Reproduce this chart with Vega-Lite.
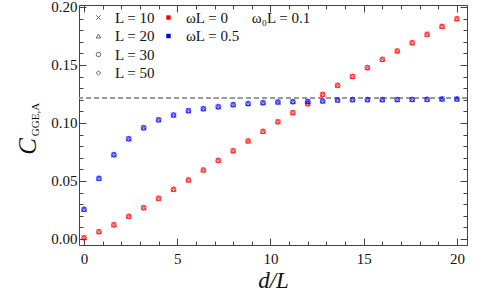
{
"$schema": "https://vega.github.io/schema/vega-lite/v6.json",
"autosize": "none",
"padding": {"left": 79, "top": 5, "right": 18, "bottom": 49},
"width": 388,
"height": 240,
"background": "white",
"config": {
  "font": "'Liberation Serif', 'Times New Roman', serif",
  "view": {"stroke": "#444", "strokeWidth": 1},
  "axis": {"labelFont": "'Liberation Serif', 'Times New Roman', serif", "labelFontSize": 15, "labelColor": "#111", "tickColor": "#444", "domain": false, "grid": false, "titleFont": "'Liberation Serif', 'Times New Roman', serif", "titleColor": "#111", "titleFontWeight": "normal"},
  "legend": {"labelFont": "'Liberation Serif', 'Times New Roman', serif", "labelFontSize": 15, "labelColor": "#111", "padding": 0}
},
"data": {"values": [
{"d":0,"C":0.0011,"L":"L = 10","w":"ωL = 0"},{"d":0.8,"C":0.0063,"L":"L = 10","w":"ωL = 0"},{"d":1.6,"C":0.0123,"L":"L = 10","w":"ωL = 0"},{"d":2.4,"C":0.0196,"L":"L = 10","w":"ωL = 0"},{"d":3.2,"C":0.027,"L":"L = 10","w":"ωL = 0"},{"d":4,"C":0.0351,"L":"L = 10","w":"ωL = 0"},{"d":4.8,"C":0.0428,"L":"L = 10","w":"ωL = 0"},{"d":5.6,"C":0.0509,"L":"L = 10","w":"ωL = 0"},{"d":6.4,"C":0.0595,"L":"L = 10","w":"ωL = 0"},{"d":7.2,"C":0.0678,"L":"L = 10","w":"ωL = 0"},{"d":8,"C":0.0761,"L":"L = 10","w":"ωL = 0"},{"d":8.8,"C":0.0845,"L":"L = 10","w":"ωL = 0"},{"d":9.6,"C":0.0928,"L":"L = 10","w":"ωL = 0"},{"d":10.4,"C":0.1011,"L":"L = 10","w":"ωL = 0"},{"d":11.2,"C":0.1089,"L":"L = 10","w":"ωL = 0"},{"d":12,"C":0.1166,"L":"L = 10","w":"ωL = 0"},{"d":12.8,"C":0.1247,"L":"L = 10","w":"ωL = 0"},{"d":13.6,"C":0.1325,"L":"L = 10","w":"ωL = 0"},{"d":14.4,"C":0.1402,"L":"L = 10","w":"ωL = 0"},{"d":15.2,"C":0.1477,"L":"L = 10","w":"ωL = 0"},{"d":16,"C":0.1549,"L":"L = 10","w":"ωL = 0"},{"d":16.8,"C":0.1621,"L":"L = 10","w":"ωL = 0"},{"d":17.6,"C":0.1692,"L":"L = 10","w":"ωL = 0"},{"d":18.4,"C":0.1765,"L":"L = 10","w":"ωL = 0"},{"d":19.2,"C":0.1833,"L":"L = 10","w":"ωL = 0"},{"d":20,"C":0.1899,"L":"L = 10","w":"ωL = 0"},
{"d":0,"C":0.0011,"L":"L = 20","w":"ωL = 0"},{"d":0.8,"C":0.0063,"L":"L = 20","w":"ωL = 0"},{"d":1.6,"C":0.0123,"L":"L = 20","w":"ωL = 0"},{"d":2.4,"C":0.0196,"L":"L = 20","w":"ωL = 0"},{"d":3.2,"C":0.027,"L":"L = 20","w":"ωL = 0"},{"d":4,"C":0.0351,"L":"L = 20","w":"ωL = 0"},{"d":4.8,"C":0.0428,"L":"L = 20","w":"ωL = 0"},{"d":5.6,"C":0.0509,"L":"L = 20","w":"ωL = 0"},{"d":6.4,"C":0.0595,"L":"L = 20","w":"ωL = 0"},{"d":7.2,"C":0.0678,"L":"L = 20","w":"ωL = 0"},{"d":8,"C":0.0761,"L":"L = 20","w":"ωL = 0"},{"d":8.8,"C":0.0845,"L":"L = 20","w":"ωL = 0"},{"d":9.6,"C":0.0928,"L":"L = 20","w":"ωL = 0"},{"d":10.4,"C":0.1011,"L":"L = 20","w":"ωL = 0"},{"d":11.2,"C":0.1089,"L":"L = 20","w":"ωL = 0"},{"d":12,"C":0.1166,"L":"L = 20","w":"ωL = 0"},{"d":12.8,"C":0.1247,"L":"L = 20","w":"ωL = 0"},{"d":13.6,"C":0.1325,"L":"L = 20","w":"ωL = 0"},{"d":14.4,"C":0.1402,"L":"L = 20","w":"ωL = 0"},{"d":15.2,"C":0.1477,"L":"L = 20","w":"ωL = 0"},{"d":16,"C":0.1549,"L":"L = 20","w":"ωL = 0"},{"d":16.8,"C":0.1621,"L":"L = 20","w":"ωL = 0"},{"d":17.6,"C":0.1692,"L":"L = 20","w":"ωL = 0"},{"d":18.4,"C":0.1765,"L":"L = 20","w":"ωL = 0"},{"d":19.2,"C":0.1833,"L":"L = 20","w":"ωL = 0"},{"d":20,"C":0.1899,"L":"L = 20","w":"ωL = 0"},
{"d":0,"C":0.0011,"L":"L = 30","w":"ωL = 0"},{"d":0.8,"C":0.0063,"L":"L = 30","w":"ωL = 0"},{"d":1.6,"C":0.0123,"L":"L = 30","w":"ωL = 0"},{"d":2.4,"C":0.0196,"L":"L = 30","w":"ωL = 0"},{"d":3.2,"C":0.027,"L":"L = 30","w":"ωL = 0"},{"d":4,"C":0.0351,"L":"L = 30","w":"ωL = 0"},{"d":4.8,"C":0.0428,"L":"L = 30","w":"ωL = 0"},{"d":5.6,"C":0.0509,"L":"L = 30","w":"ωL = 0"},{"d":6.4,"C":0.0595,"L":"L = 30","w":"ωL = 0"},{"d":7.2,"C":0.0678,"L":"L = 30","w":"ωL = 0"},{"d":8,"C":0.0761,"L":"L = 30","w":"ωL = 0"},{"d":8.8,"C":0.0845,"L":"L = 30","w":"ωL = 0"},{"d":9.6,"C":0.0928,"L":"L = 30","w":"ωL = 0"},{"d":10.4,"C":0.1011,"L":"L = 30","w":"ωL = 0"},{"d":11.2,"C":0.1089,"L":"L = 30","w":"ωL = 0"},{"d":12,"C":0.1166,"L":"L = 30","w":"ωL = 0"},{"d":12.8,"C":0.1247,"L":"L = 30","w":"ωL = 0"},{"d":13.6,"C":0.1325,"L":"L = 30","w":"ωL = 0"},{"d":14.4,"C":0.1402,"L":"L = 30","w":"ωL = 0"},{"d":15.2,"C":0.1477,"L":"L = 30","w":"ωL = 0"},{"d":16,"C":0.1549,"L":"L = 30","w":"ωL = 0"},{"d":16.8,"C":0.1621,"L":"L = 30","w":"ωL = 0"},{"d":17.6,"C":0.1692,"L":"L = 30","w":"ωL = 0"},{"d":18.4,"C":0.1765,"L":"L = 30","w":"ωL = 0"},{"d":19.2,"C":0.1833,"L":"L = 30","w":"ωL = 0"},{"d":20,"C":0.1899,"L":"L = 30","w":"ωL = 0"},
{"d":0,"C":0.0011,"L":"L = 50","w":"ωL = 0"},{"d":0.8,"C":0.0063,"L":"L = 50","w":"ωL = 0"},{"d":1.6,"C":0.0123,"L":"L = 50","w":"ωL = 0"},{"d":2.4,"C":0.0196,"L":"L = 50","w":"ωL = 0"},{"d":3.2,"C":0.027,"L":"L = 50","w":"ωL = 0"},{"d":4,"C":0.0351,"L":"L = 50","w":"ωL = 0"},{"d":4.8,"C":0.0428,"L":"L = 50","w":"ωL = 0"},{"d":5.6,"C":0.0509,"L":"L = 50","w":"ωL = 0"},{"d":6.4,"C":0.0595,"L":"L = 50","w":"ωL = 0"},{"d":7.2,"C":0.0678,"L":"L = 50","w":"ωL = 0"},{"d":8,"C":0.0761,"L":"L = 50","w":"ωL = 0"},{"d":8.8,"C":0.0845,"L":"L = 50","w":"ωL = 0"},{"d":9.6,"C":0.0928,"L":"L = 50","w":"ωL = 0"},{"d":10.4,"C":0.1011,"L":"L = 50","w":"ωL = 0"},{"d":11.2,"C":0.1089,"L":"L = 50","w":"ωL = 0"},{"d":12,"C":0.1166,"L":"L = 50","w":"ωL = 0"},{"d":12.8,"C":0.1247,"L":"L = 50","w":"ωL = 0"},{"d":13.6,"C":0.1325,"L":"L = 50","w":"ωL = 0"},{"d":14.4,"C":0.1402,"L":"L = 50","w":"ωL = 0"},{"d":15.2,"C":0.1477,"L":"L = 50","w":"ωL = 0"},{"d":16,"C":0.1549,"L":"L = 50","w":"ωL = 0"},{"d":16.8,"C":0.1621,"L":"L = 50","w":"ωL = 0"},{"d":17.6,"C":0.1692,"L":"L = 50","w":"ωL = 0"},{"d":18.4,"C":0.1765,"L":"L = 50","w":"ωL = 0"},{"d":19.2,"C":0.1833,"L":"L = 50","w":"ωL = 0"},{"d":20,"C":0.1899,"L":"L = 50","w":"ωL = 0"},
{"d":0,"C":0.0256,"L":"L = 10","w":"ωL = 0.5"},{"d":0.8,"C":0.0523,"L":"L = 10","w":"ωL = 0.5"},{"d":1.6,"C":0.0727,"L":"L = 10","w":"ωL = 0.5"},{"d":2.4,"C":0.0864,"L":"L = 10","w":"ωL = 0.5"},{"d":3.2,"C":0.0959,"L":"L = 10","w":"ωL = 0.5"},{"d":4,"C":0.1028,"L":"L = 10","w":"ωL = 0.5"},{"d":4.8,"C":0.1069,"L":"L = 10","w":"ωL = 0.5"},{"d":5.6,"C":0.1106,"L":"L = 10","w":"ωL = 0.5"},{"d":6.4,"C":0.1123,"L":"L = 10","w":"ωL = 0.5"},{"d":7.2,"C":0.114,"L":"L = 10","w":"ωL = 0.5"},{"d":8,"C":0.1158,"L":"L = 10","w":"ωL = 0.5"},{"d":8.8,"C":0.1167,"L":"L = 10","w":"ωL = 0.5"},{"d":9.6,"C":0.1175,"L":"L = 10","w":"ωL = 0.5"},{"d":10.4,"C":0.1181,"L":"L = 10","w":"ωL = 0.5"},{"d":11.2,"C":0.1184,"L":"L = 10","w":"ωL = 0.5"},{"d":12,"C":0.1186,"L":"L = 10","w":"ωL = 0.5"},{"d":12.8,"C":0.119,"L":"L = 10","w":"ωL = 0.5"},{"d":13.6,"C":0.1198,"L":"L = 10","w":"ωL = 0.5"},{"d":14.4,"C":0.1201,"L":"L = 10","w":"ωL = 0.5"},{"d":15.2,"C":0.1201,"L":"L = 10","w":"ωL = 0.5"},{"d":16,"C":0.1201,"L":"L = 10","w":"ωL = 0.5"},{"d":16.8,"C":0.1202,"L":"L = 10","w":"ωL = 0.5"},{"d":17.6,"C":0.1203,"L":"L = 10","w":"ωL = 0.5"},{"d":18.4,"C":0.1204,"L":"L = 10","w":"ωL = 0.5"},{"d":19.2,"C":0.1207,"L":"L = 10","w":"ωL = 0.5"},{"d":20,"C":0.1207,"L":"L = 10","w":"ωL = 0.5"},
{"d":0,"C":0.0256,"L":"L = 20","w":"ωL = 0.5"},{"d":0.8,"C":0.0523,"L":"L = 20","w":"ωL = 0.5"},{"d":1.6,"C":0.0727,"L":"L = 20","w":"ωL = 0.5"},{"d":2.4,"C":0.0864,"L":"L = 20","w":"ωL = 0.5"},{"d":3.2,"C":0.0959,"L":"L = 20","w":"ωL = 0.5"},{"d":4,"C":0.1028,"L":"L = 20","w":"ωL = 0.5"},{"d":4.8,"C":0.1069,"L":"L = 20","w":"ωL = 0.5"},{"d":5.6,"C":0.1106,"L":"L = 20","w":"ωL = 0.5"},{"d":6.4,"C":0.1123,"L":"L = 20","w":"ωL = 0.5"},{"d":7.2,"C":0.114,"L":"L = 20","w":"ωL = 0.5"},{"d":8,"C":0.1158,"L":"L = 20","w":"ωL = 0.5"},{"d":8.8,"C":0.1167,"L":"L = 20","w":"ωL = 0.5"},{"d":9.6,"C":0.1175,"L":"L = 20","w":"ωL = 0.5"},{"d":10.4,"C":0.1181,"L":"L = 20","w":"ωL = 0.5"},{"d":11.2,"C":0.1184,"L":"L = 20","w":"ωL = 0.5"},{"d":12,"C":0.1186,"L":"L = 20","w":"ωL = 0.5"},{"d":12.8,"C":0.119,"L":"L = 20","w":"ωL = 0.5"},{"d":13.6,"C":0.1198,"L":"L = 20","w":"ωL = 0.5"},{"d":14.4,"C":0.1201,"L":"L = 20","w":"ωL = 0.5"},{"d":15.2,"C":0.1201,"L":"L = 20","w":"ωL = 0.5"},{"d":16,"C":0.1201,"L":"L = 20","w":"ωL = 0.5"},{"d":16.8,"C":0.1202,"L":"L = 20","w":"ωL = 0.5"},{"d":17.6,"C":0.1203,"L":"L = 20","w":"ωL = 0.5"},{"d":18.4,"C":0.1204,"L":"L = 20","w":"ωL = 0.5"},{"d":19.2,"C":0.1207,"L":"L = 20","w":"ωL = 0.5"},{"d":20,"C":0.1207,"L":"L = 20","w":"ωL = 0.5"},
{"d":0,"C":0.0256,"L":"L = 30","w":"ωL = 0.5"},{"d":0.8,"C":0.0523,"L":"L = 30","w":"ωL = 0.5"},{"d":1.6,"C":0.0727,"L":"L = 30","w":"ωL = 0.5"},{"d":2.4,"C":0.0864,"L":"L = 30","w":"ωL = 0.5"},{"d":3.2,"C":0.0959,"L":"L = 30","w":"ωL = 0.5"},{"d":4,"C":0.1028,"L":"L = 30","w":"ωL = 0.5"},{"d":4.8,"C":0.1069,"L":"L = 30","w":"ωL = 0.5"},{"d":5.6,"C":0.1106,"L":"L = 30","w":"ωL = 0.5"},{"d":6.4,"C":0.1123,"L":"L = 30","w":"ωL = 0.5"},{"d":7.2,"C":0.114,"L":"L = 30","w":"ωL = 0.5"},{"d":8,"C":0.1158,"L":"L = 30","w":"ωL = 0.5"},{"d":8.8,"C":0.1167,"L":"L = 30","w":"ωL = 0.5"},{"d":9.6,"C":0.1175,"L":"L = 30","w":"ωL = 0.5"},{"d":10.4,"C":0.1181,"L":"L = 30","w":"ωL = 0.5"},{"d":11.2,"C":0.1184,"L":"L = 30","w":"ωL = 0.5"},{"d":12,"C":0.1186,"L":"L = 30","w":"ωL = 0.5"},{"d":12.8,"C":0.119,"L":"L = 30","w":"ωL = 0.5"},{"d":13.6,"C":0.1198,"L":"L = 30","w":"ωL = 0.5"},{"d":14.4,"C":0.1201,"L":"L = 30","w":"ωL = 0.5"},{"d":15.2,"C":0.1201,"L":"L = 30","w":"ωL = 0.5"},{"d":16,"C":0.1201,"L":"L = 30","w":"ωL = 0.5"},{"d":16.8,"C":0.1202,"L":"L = 30","w":"ωL = 0.5"},{"d":17.6,"C":0.1203,"L":"L = 30","w":"ωL = 0.5"},{"d":18.4,"C":0.1204,"L":"L = 30","w":"ωL = 0.5"},{"d":19.2,"C":0.1207,"L":"L = 30","w":"ωL = 0.5"},{"d":20,"C":0.1207,"L":"L = 30","w":"ωL = 0.5"},
{"d":0,"C":0.0256,"L":"L = 50","w":"ωL = 0.5"},{"d":0.8,"C":0.0523,"L":"L = 50","w":"ωL = 0.5"},{"d":1.6,"C":0.0727,"L":"L = 50","w":"ωL = 0.5"},{"d":2.4,"C":0.0864,"L":"L = 50","w":"ωL = 0.5"},{"d":3.2,"C":0.0959,"L":"L = 50","w":"ωL = 0.5"},{"d":4,"C":0.1028,"L":"L = 50","w":"ωL = 0.5"},{"d":4.8,"C":0.1069,"L":"L = 50","w":"ωL = 0.5"},{"d":5.6,"C":0.1106,"L":"L = 50","w":"ωL = 0.5"},{"d":6.4,"C":0.1123,"L":"L = 50","w":"ωL = 0.5"},{"d":7.2,"C":0.114,"L":"L = 50","w":"ωL = 0.5"},{"d":8,"C":0.1158,"L":"L = 50","w":"ωL = 0.5"},{"d":8.8,"C":0.1167,"L":"L = 50","w":"ωL = 0.5"},{"d":9.6,"C":0.1175,"L":"L = 50","w":"ωL = 0.5"},{"d":10.4,"C":0.1181,"L":"L = 50","w":"ωL = 0.5"},{"d":11.2,"C":0.1184,"L":"L = 50","w":"ωL = 0.5"},{"d":12,"C":0.1186,"L":"L = 50","w":"ωL = 0.5"},{"d":12.8,"C":0.119,"L":"L = 50","w":"ωL = 0.5"},{"d":13.6,"C":0.1198,"L":"L = 50","w":"ωL = 0.5"},{"d":14.4,"C":0.1201,"L":"L = 50","w":"ωL = 0.5"},{"d":15.2,"C":0.1201,"L":"L = 50","w":"ωL = 0.5"},{"d":16,"C":0.1201,"L":"L = 50","w":"ωL = 0.5"},{"d":16.8,"C":0.1202,"L":"L = 50","w":"ωL = 0.5"},{"d":17.6,"C":0.1203,"L":"L = 50","w":"ωL = 0.5"},{"d":18.4,"C":0.1204,"L":"L = 50","w":"ωL = 0.5"},{"d":19.2,"C":0.1207,"L":"L = 50","w":"ωL = 0.5"},{"d":20,"C":0.1207,"L":"L = 50","w":"ωL = 0.5"}
]},
"resolve": {"axis": {"x": "independent", "y": "independent"}},
"layer": [
  {
    "mark": {"type": "rule", "color": "#9a9a9a", "strokeDash": [5, 3], "strokeWidth": 1},
    "encoding": {"y": {"datum": 0.1212, "type": "quantitative", "axis": null}}
  },
  {
    "mark": {"type": "point", "filled": false, "size": 24, "strokeWidth": 1, "opacity": 0.55},
    "encoding": {
      "x": {"field": "d", "type": "quantitative",
        "scale": {"domain": [-0.27, 20.54], "nice": false, "zero": false},
        "axis": {"orient": "bottom", "title": "d/L", "titleFontStyle": "italic", "titleFontSize": 23, "titleY": 42, "titleBaseline": "alphabetic",
          "values": [0,1,2,3,4,5,6,7,8,9,10,11,12,13,14,15,16,17,18,19,20],
          "labelExpr": "datum.value % 5 === 0 ? datum.label : ''",
          "tickSize": {"condition": {"test": "datum.value % 5 === 0", "value": -7}, "value": -4},
          "labelPadding": 13}},
      "y": {"field": "C", "type": "quantitative",
        "scale": {"domain": [-0.0052, 0.2017], "nice": false, "zero": false},
        "axis": {"orient": "left", "title": "C", "titleFontStyle": "italic", "titleFontSize": 25, "titleAngle": 270, "titleX": -44, "titleY": 141, "titleAlign": "center", "titleBaseline": "alphabetic",
          "values": [0,0.01,0.02,0.03,0.04,0.05,0.06,0.07,0.08,0.09,0.1,0.11,0.12,0.13,0.14,0.15,0.16,0.17,0.18,0.19,0.2],
          "format": ".2f",
          "labelExpr": "round(datum.value*100) % 5 === 0 ? datum.label : ''",
          "tickSize": {"condition": {"test": "round(datum.value*100) % 5 === 0", "value": -7}, "value": -4},
          "labelPadding": 9}},
      "shape": {"field": "L", "type": "nominal",
        "scale": {"domain": ["L = 10", "L = 20", "L = 30", "L = 50"], "range": ["M-1,-1L1,1M-1,1L1,-1", "triangle-up", "circle", "diamond"]},
        "legend": {"orient": "none", "legendX": 12, "legendY": 5, "title": null, "symbolSize": 20, "symbolStrokeColor": "#666", "symbolStrokeWidth": 1, "symbolOpacity": 1, "labelOffset": 9, "rowPadding": 2.5}},
      "color": {"field": "w", "type": "nominal",
        "scale": {"domain": ["ωL = 0", "ωL = 0.5"], "range": ["#ff0000", "#0000ff"]},
        "legend": {"orient": "none", "legendX": 82, "legendY": 5, "title": null, "symbolType": "square", "symbolSize": 2, "symbolStrokeWidth": 3, "symbolOpacity": 1, "labelOffset": 10, "rowPadding": 2.5}}
    }
  },
  {
    "data": {"values": [{}]},
    "mark": {"type": "text", "font": "'Liberation Serif', 'Times New Roman', serif", "fontSize": 15, "color": "#111", "align": "left", "baseline": "middle"},
    "encoding": {
      "text": {"value": "ω₀L = 0.1"},
      "x": {"datum": 9.0, "type": "quantitative",
        "axis": {"orient": "top", "title": null, "labels": false,
          "values": [0,1,2,3,4,5,6,7,8,9,10,11,12,13,14,15,16,17,18,19,20],
          "tickSize": {"condition": {"test": "datum.value % 5 === 0", "value": -7}, "value": -4}}},
      "y": {"datum": 0.1905, "type": "quantitative",
        "axis": {"orient": "right", "title": null, "labels": false,
          "values": [0,0.01,0.02,0.03,0.04,0.05,0.06,0.07,0.08,0.09,0.1,0.11,0.12,0.13,0.14,0.15,0.16,0.17,0.18,0.19,0.2],
          "tickSize": {"condition": {"test": "round(datum.value*100) % 5 === 0", "value": -7}, "value": -4}}}
    }
  },
  {
    "data": {"values": [{}]},
    "mark": {"type": "text", "font": "'Liberation Serif', 'Times New Roman', serif", "fontSize": 11, "color": "#111", "align": "center", "baseline": "alphabetic", "angle": 270, "clip": false},
    "encoding": {
      "text": {"value": "GGE,A"},
      "x": {"datum": -2.41, "type": "quantitative", "axis": null},
      "y": {"datum": 0.103, "type": "quantitative", "axis": null}
    }
  }
]
}
